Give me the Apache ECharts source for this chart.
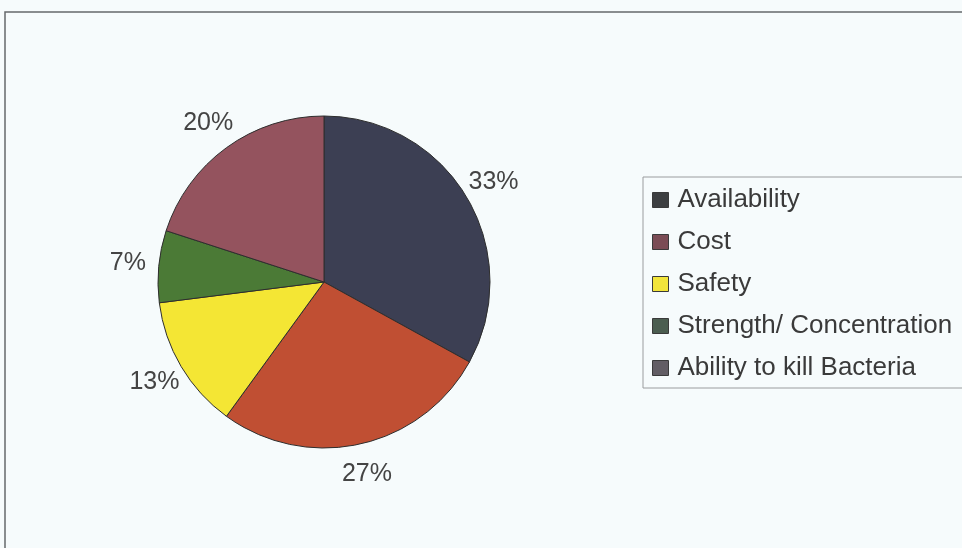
<!DOCTYPE html>
<html>
<head>
<meta charset="utf-8">
<script src="https://cdn.jsdelivr.net/npm/echarts@6/dist/echarts.min.js"></script>
<style>
  html, body { margin: 0; padding: 0; background: #f6fbfc; }
  #chart { width: 962px; height: 548px; }
</style>
</head>
<body>
<div id="chart"></div>
<script>
// Factors considered when choosing a disinfectant (share of responses, %)
const categories = ['Availability', 'Cost', 'Safety', 'Strength/ Concentration', 'Ability to kill Bacteria'];
const shares = [33, 27, 13, 7, 20];
const sliceColors = ['#3c3f53', '#c04f33', '#f4e634', '#4b7a36', '#94535e'];
const legendColors = ['#3d3f41', '#7b4c55', '#f2e53b', '#4b5d50', '#625d64'];

const FONT = '"Liberation Sans", Arial, Helvetica, sans-serif';
const pieCenter = [324, 282];
const pieRadius = 166;

const sliceData = categories.map((name, i) => ({
  name: name,
  value: shares[i],
  itemStyle: { color: sliceColors[i] }
}));

const chart = echarts.init(document.getElementById('chart'), null, { renderer: 'canvas' });

chart.setOption({
  backgroundColor: '#f6fbfc',
  animation: false,
  graphic: [{
    type: 'rect',
    shape: { x: 5, y: 12, width: 1000, height: 600 },
    style: { fill: 'none', stroke: '#65696b', lineWidth: 1.5 },
    silent: true
  }],
  legend: {
    orient: 'vertical',
    left: 643,
    top: 177,
    padding: [8, 30, 5, 9],
    borderColor: '#9a9c9e',
    borderWidth: 1,
    backgroundColor: 'transparent',
    icon: 'rect',
    itemWidth: 16,
    itemHeight: 15,
    itemGap: 12,
    selectedMode: false,
    textStyle: {
      fontFamily: FONT,
      fontSize: 26,
      lineHeight: 30,
      color: '#3a3a3a',
      padding: [0, 0, 0, 4]
    },
    data: categories.map((name, i) => ({
      name: name,
      itemStyle: { color: legendColors[i], borderColor: '#3a3a3a', borderWidth: 1 }
    }))
  },
  series: [
    {
      type: 'pie',
      center: pieCenter,
      radius: pieRadius,
      startAngle: 90,
      clockwise: true,
      silent: true,
      itemStyle: { borderColor: '#2e2e2e', borderWidth: 1 },
      label: { show: false },
      labelLine: { show: false },
      emphasis: { disabled: true },
      data: sliceData
    },
    {
      // transparent ring that carries the percentage labels just outside the pie
      type: 'pie',
      center: pieCenter,
      radius: [pieRadius + 14, pieRadius + 42],
      startAngle: 90,
      clockwise: true,
      silent: true,
      legendHoverLink: false,
      itemStyle: { color: 'rgba(0,0,0,0)', borderWidth: 0 },
      label: {
        show: true,
        position: 'inside',
        fontFamily: FONT,
        fontSize: 25,
        color: '#444444',
        formatter: p => p.value + '%'
      },
      labelLine: { show: false },
      emphasis: { disabled: true },
      data: categories.map((name, i) => ({ name: name, value: shares[i] }))
    }
  ]
});
</script>
</body>
</html>
